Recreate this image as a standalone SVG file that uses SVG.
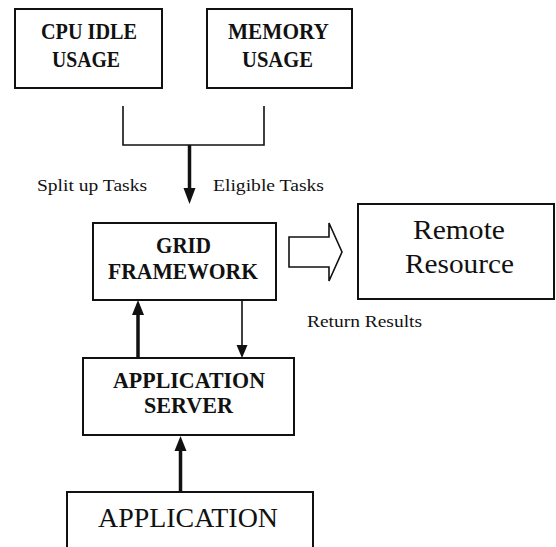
<svg xmlns="http://www.w3.org/2000/svg" width="556" height="547" viewBox="0 0 556 547">
<style>
.box{fill:#fff;stroke:#111;stroke-width:2}
text{font-family:'Liberation Serif','DejaVu Serif','Times New Roman',Times,serif;fill:#111}
.b{font-weight:bold;font-size:23px}
.r{font-size:27px}
.s{font-size:16px}
.thick{stroke:#111;stroke-width:3.5;fill:none}
.thin{stroke:#111;stroke-width:1.6;fill:none}
.head{fill:#111;stroke:none}
</style>
<rect width="556" height="547" fill="#fff"/>
<g id="cpu">
<rect class="box" x="15" y="9" width="147" height="79"/>
<text class="b" x="41" y="39" textLength="96" lengthAdjust="spacingAndGlyphs">CPU IDLE</text>
<text class="b" x="52" y="67" textLength="68" lengthAdjust="spacingAndGlyphs">USAGE</text>
</g>
<g id="memory">
<rect class="box" x="207" y="9" width="145" height="79"/>
<text class="b" x="228" y="39" textLength="101" lengthAdjust="spacingAndGlyphs">MEMORY</text>
<text class="b" x="242" y="67" textLength="71" lengthAdjust="spacingAndGlyphs">USAGE</text>
</g>
<g id="grid">
<rect class="box" x="93" y="223" width="183" height="77"/>
<text class="b" x="156" y="253" textLength="55" lengthAdjust="spacingAndGlyphs">GRID</text>
<text class="b" x="108" y="279" textLength="150" lengthAdjust="spacingAndGlyphs">FRAMEWORK</text>
</g>
<g id="remote">
<rect class="box" x="358" y="204" width="196" height="95"/>
<text class="r" x="413" y="239" textLength="92" lengthAdjust="spacingAndGlyphs">Remote</text>
<text class="r" x="405" y="273" textLength="109" lengthAdjust="spacingAndGlyphs">Resource</text>
</g>
<g id="appserver">
<rect class="box" x="83" y="358" width="211" height="77"/>
<text class="b" x="113" y="388" textLength="152" lengthAdjust="spacingAndGlyphs">APPLICATION</text>
<text class="b" x="144" y="413" textLength="89" lengthAdjust="spacingAndGlyphs">SERVER</text>
</g>
<g id="application">
<rect class="box" x="67" y="492" width="246" height="70"/>
<text class="r" x="98" y="527" font-size="25" textLength="180" lengthAdjust="spacingAndGlyphs">APPLICATION</text>
</g>
<g id="connectors">
<polyline class="thin" points="123,106 123,145 264,145 264,106"/>
<line class="thick" x1="189.5" y1="145" x2="189.5" y2="192"/>
<polygon class="head" points="183.5,188 195.5,188 189.5,204"/>
<polygon points="289,237 329,237 329,223 342,252 329,281 329,267 289,267" fill="#fff" stroke="#111" stroke-width="1.6"/>
<line class="thick" x1="138" y1="358" x2="138" y2="310"/>
<polygon class="head" points="132,315 144,315 138,300"/>
<line class="thin" x1="242" y1="300" x2="242" y2="348"/>
<polygon class="head" points="236.5,345 247.5,345 242,358"/>
<line class="thick" x1="180.5" y1="492" x2="180.5" y2="446"/>
<polygon class="head" points="174.5,451 186.5,451 180.5,436"/>
</g>
<g id="labels">
<text class="s" x="37" y="191" textLength="110" lengthAdjust="spacingAndGlyphs">Split up Tasks</text>
<text class="s" x="213" y="191" textLength="111" lengthAdjust="spacingAndGlyphs">Eligible Tasks</text>
<text class="s" x="307" y="327" textLength="115" lengthAdjust="spacingAndGlyphs">Return Results</text>
</g>
</svg>
